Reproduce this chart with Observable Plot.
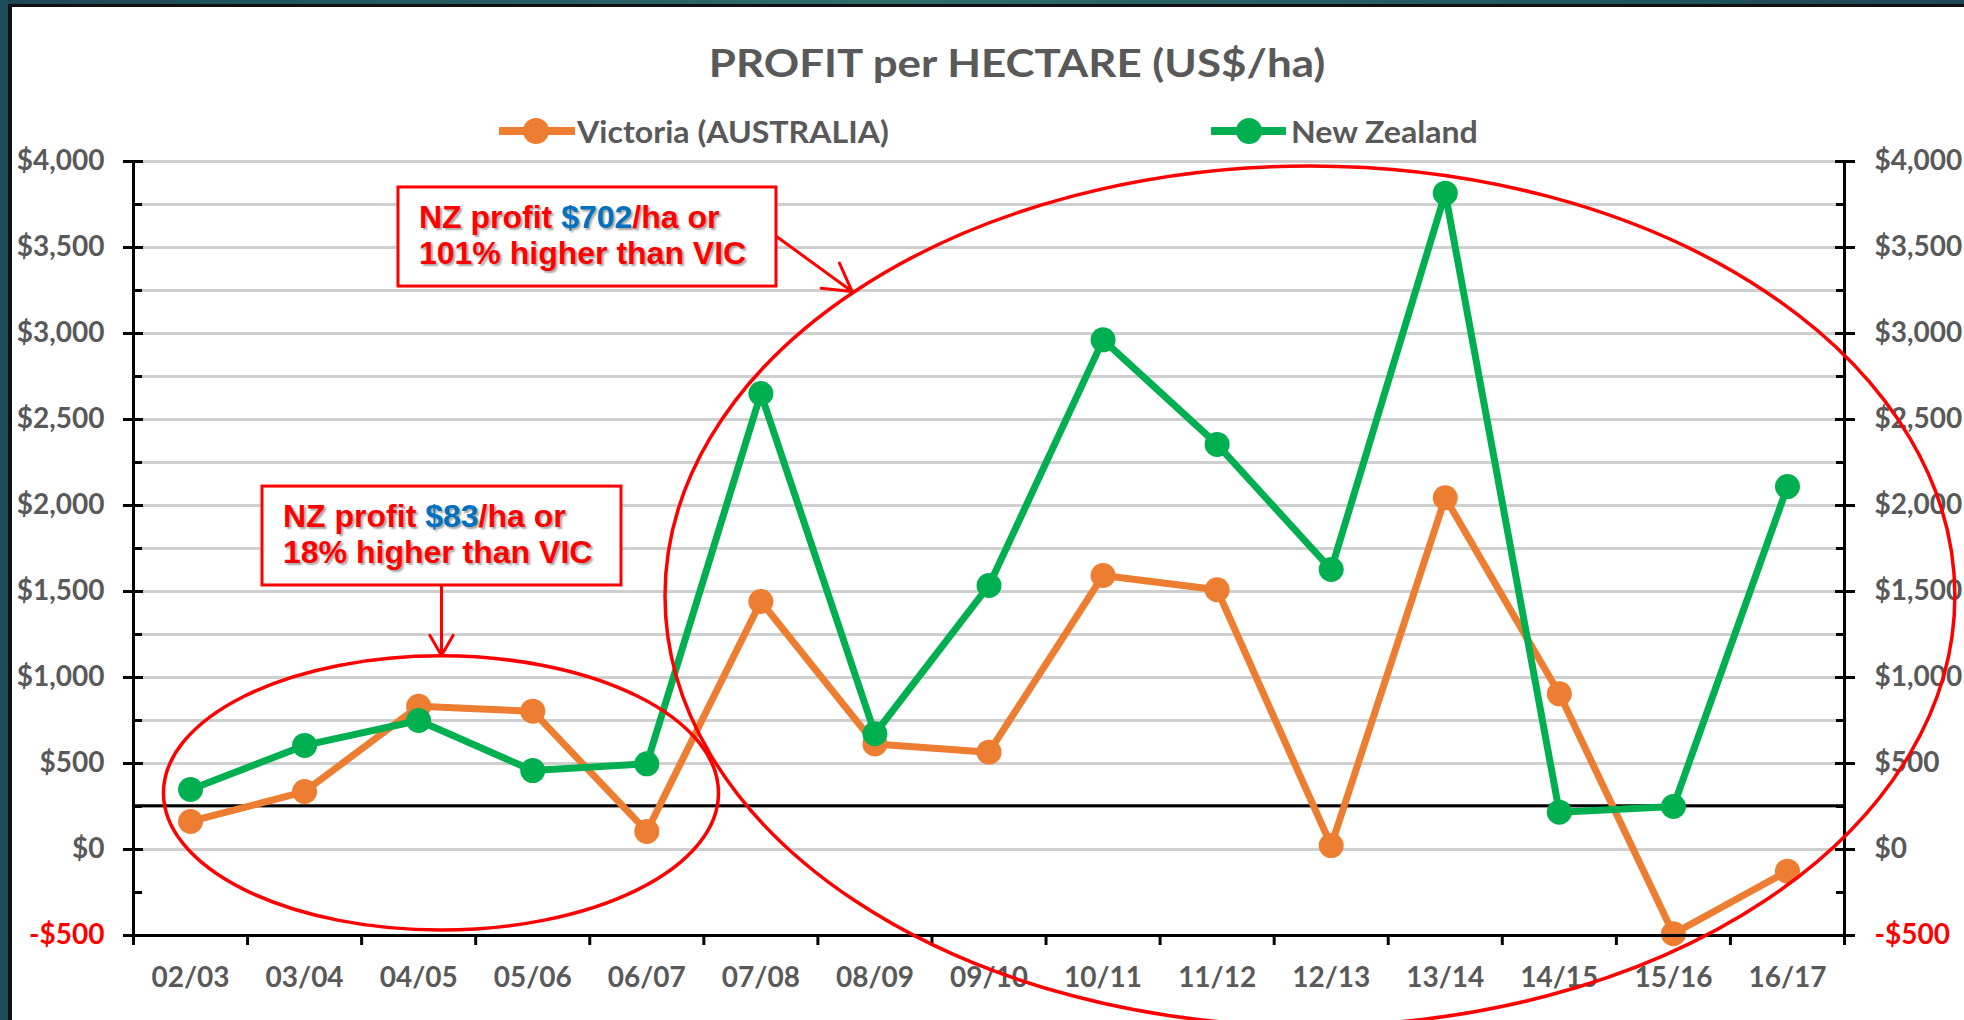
<!DOCTYPE html>
<html>
<head>
<meta charset="utf-8">
<script src="https://cdn.jsdelivr.net/npm/d3@7"></script>
<script src="https://cdn.jsdelivr.net/npm/@observablehq/plot@0.6"></script>
<style>
html,body{margin:0;padding:0;}
body{width:1964px;height:1020px;position:relative;overflow:hidden;background:#fff;font-family:Lato,sans-serif;}
#topbar{position:absolute;left:0;top:0;width:1964px;height:4px;background:linear-gradient(90deg,#1c4855,#2f6c6a 45%,#1c4855);}
#topline{position:absolute;left:8px;top:4px;width:1956px;height:3px;background:#111;}
#leftbar{position:absolute;left:0;top:0;width:8px;height:1020px;background:#1e4b58;}
#leftline{position:absolute;left:8px;top:4px;width:4px;height:1016px;background:#111;}
#title{position:absolute;left:517px;width:1000px;top:43px;text-align:center;font:700 39px/1 Lato,sans-serif;color:#595959;white-space:nowrap;transform:scaleX(1.125);transform-origin:500px 0;}
.legitem{position:absolute;top:115px;height:30px;}
.legtext{position:absolute;top:116px;font:700 30px/1 Lato,sans-serif;color:#595959;white-space:nowrap;transform:scaleX(1.07);transform-origin:0 0;}
#chart{position:absolute;left:0;top:150px;}
</style>
</head>
<body>
<div id="topbar"></div><div id="leftbar"></div><div id="topline"></div><div id="leftline"></div>
<div id="title">PROFIT per HECTARE (US$/ha)</div>
<div id="legend"></div>
<div id="chart"></div>
<script>
// ---- data ----
const categories = ["02/03","03/04","04/05","05/06","06/07","07/08","08/09","09/10","10/11","11/12","12/13","13/14","14/15","15/16","16/17"];
const victoria   = [163, 337, 833, 804, 105, 1442, 614, 566, 1593, 1510, 23, 2045, 905, -490, -126];
const newZealand = [349, 605, 750, 459, 498, 2651, 673, 1535, 2963, 2355, 1628, 3816, 217, 250, 2110];
const seriesNames = ["Victoria (AUSTRALIA)", "New Zealand"];
const seriesColors = ["#ED7D31", "#00B050"];
const yLabelTicks = [-500, 0, 500, 1000, 1500, 2000, 2500, 3000, 3500, 4000];
const yMinorTicks = [-250, 250, 750, 1250, 1750, 2250, 2750, 3250, 3750];
const referenceLine = [255];

// ---- annotations (data units: x = category index, y = US$/ha) ----
const ellipses = [
  {cx: 2.2, cy: 326, rx: 2.433, ry: 797},
  {cx: 9.818, cy: 1471, rx: 5.654, ry: 2500}
];
const boxes = [
  {x1: 1.823, x2: 5.137, y1: 3849, y2: 3273, pre: "NZ profit ", value: "$702", post: "/ha or", line2: "101% higher than VIC"},
  {x1: 0.631, x2: 3.778, y1: 2110, y2: 1535, pre: "NZ profit ", value: "$83", post: "/ha or", line2: "18% higher than VIC"}
];
const arrows = [
  {x1: 5.137, y1: 3564, x2: 5.80, y2: 3244},
  {x1: 2.2, y1: 1535, x2: 2.2, y2: 1128}
];

const rows = categories.map((c, i) => ({i, cat: c, vic: victoria[i], nz: newZealand[i]}));
const catIndex = d3.range(categories.length);
const xBoundaries = d3.range(-0.5, categories.length, 1);
const yGrid = [...yLabelTicks.slice(1), ...yMinorTicks.slice(1)];
const fmt = d => (d < 0 ? "-" : "") + "$" + d3.format(",")(Math.abs(d));

// ---- legend ----
const legend = document.getElementById("legend");
const legPos = [{sw: 499, w: 76, c: 37, t: 577}, {sw: 1211, w: 75, c: 38, t: 1291}];
seriesNames.forEach((name, k) => {
  const p = legPos[k];
  const s = document.createElement("div");
  s.className = "legitem"; s.style.left = p.sw + "px";
  s.innerHTML = `<svg width="${p.w}" height="30"><line x1="2" x2="${p.w - 2}" y1="16" y2="16" stroke="${seriesColors[k]}" stroke-width="8" stroke-linecap="round"/><circle cx="${p.c}" cy="16" r="13" fill="${seriesColors[k]}"/></svg>`;
  legend.appendChild(s);
  const t = document.createElement("div");
  t.className = "legtext"; t.style.left = p.t + "px"; t.textContent = name;
  legend.appendChild(t);
});

// ---- chart ----
const axisStyle = {stroke: "black", strokeWidth: 3};
const chart = Plot.plot({
  width: 1964,
  height: 870,
  marginTop: 11,
  marginBottom: 85,
  marginLeft: 133,
  marginRight: 120,
  x: {type: "linear", domain: [xBoundaries[0], xBoundaries[xBoundaries.length - 1]]},
  y: {domain: [yLabelTicks[0], yLabelTicks[yLabelTicks.length - 1]]},
  style: {fontFamily: "Lato, sans-serif", fontSize: "28px", fontWeight: 700, color: "#595959", background: "transparent", overflow: "visible"},
  marks: [
    Plot.gridY(yGrid, {stroke: "#cfcfcf", strokeOpacity: 1, strokeWidth: 3}),
    Plot.ruleY(referenceLine, {stroke: "black", strokeWidth: 3}),
    Plot.line(rows, {x: "i", y: "vic", stroke: seriesColors[0], strokeWidth: 7}),
    Plot.dot(rows, {x: "i", y: "vic", r: 12.5, fill: seriesColors[0]}),
    Plot.line(rows, {x: "i", y: "nz", stroke: seriesColors[1], strokeWidth: 7}),
    Plot.dot(rows, {x: "i", y: "nz", r: 12.5, fill: seriesColors[1]}),
    Plot.ruleY([yLabelTicks[0]], axisStyle),
    Plot.ruleX([xBoundaries[0], xBoundaries[xBoundaries.length - 1]], axisStyle),
    // x axis
    Plot.axisX({ticks: catIndex, tickFormat: i => categories[i], tickSize: 0, tickPadding: 32, fill: "#595959"}),
    Plot.axisX({ticks: xBoundaries, tickFormat: () => "", tickSize: 10, ...axisStyle}),
    // left y axis
    Plot.axisY({anchor: "left", ticks: yLabelTicks, tickFormat: fmt, tickSize: 0, tickPadding: 29, fill: "#595959"}),
    Plot.axisY({anchor: "left", ticks: yLabelTicks, tickFormat: () => "", tickSize: 20, dx: 10, ...axisStyle}),
    Plot.axisY({anchor: "left", ticks: yMinorTicks, tickFormat: () => "", tickSize: 9, dx: 9, ...axisStyle}),
    // right y axis
    Plot.axisY({anchor: "right", ticks: yLabelTicks, tickFormat: fmt, tickSize: 0, tickPadding: 30, fill: "#595959"}),
    Plot.axisY({anchor: "right", ticks: yLabelTicks, tickFormat: () => "", tickSize: 20, dx: -10, ...axisStyle}),
    Plot.axisY({anchor: "right", ticks: yMinorTicks, tickFormat: () => "", tickSize: 9, dx: -9, ...axisStyle}),
    // annotation arrows
    Plot.arrow(arrows, {x1: "x1", y1: "y1", x2: "x2", y2: "y2", stroke: "#FF0000", strokeWidth: 3, headLength: 18})
  ]
});
document.getElementById("chart").appendChild(chart);

// negative tick labels in red
d3.select(chart).selectAll("text").filter(function () { return this.textContent.startsWith("-"); }).attr("fill", "#FF0000");

// ---- annotations drawn with the plot's scales ----
const xs = chart.scale("x"), ys = chart.scale("y");
const X = d3.scaleLinear(xs.domain, xs.range);
const Y = d3.scaleLinear(ys.domain, ys.range);
const svg = d3.select(chart);
const ann = svg.append("g").attr("class", "annotations").attr("text-anchor", "start");
ellipses.forEach(e => {
  ann.append("ellipse")
    .attr("cx", X(e.cx)).attr("cy", Y(e.cy))
    .attr("rx", X(e.cx + e.rx) - X(e.cx)).attr("ry", Math.abs(Y(e.cy + e.ry) - Y(e.cy)))
    .attr("fill", "none").attr("stroke", "#FF0000").attr("stroke-width", 3.5);
});
boxes.forEach(b => {
  const left = X(b.x1), top = Y(b.y1);
  ann.append("rect")
    .attr("x", left).attr("y", top)
    .attr("width", X(b.x2) - X(b.x1)).attr("height", Y(b.y2) - Y(b.y1))
    .attr("fill", "white").attr("stroke", "#FF0000").attr("stroke-width", 3);
  const t = ann.append("text")
    .attr("x", left + 21).attr("y", top + 41).attr("text-anchor", "start")
    .attr("font-family", "'Liberation Sans', Arial, sans-serif").attr("font-size", 32).attr("font-weight", 700)
    .attr("fill", "#FF0000")
    .style("text-shadow", "2px 2px 2px rgba(0,0,0,0.35)");
  t.append("tspan").text(b.pre);
  t.append("tspan").attr("fill", "#0070C0").text(b.value);
  t.append("tspan").text(b.post);
  ann.append("text")
    .attr("x", left + 21).attr("y", top + 77).attr("text-anchor", "start")
    .attr("font-family", "'Liberation Sans', Arial, sans-serif").attr("font-size", 32).attr("font-weight", 700)
    .attr("fill", "#FF0000")
    .style("text-shadow", "2px 2px 2px rgba(0,0,0,0.35)")
    .text(b.line2);
});
</script>
</body>
</html>
